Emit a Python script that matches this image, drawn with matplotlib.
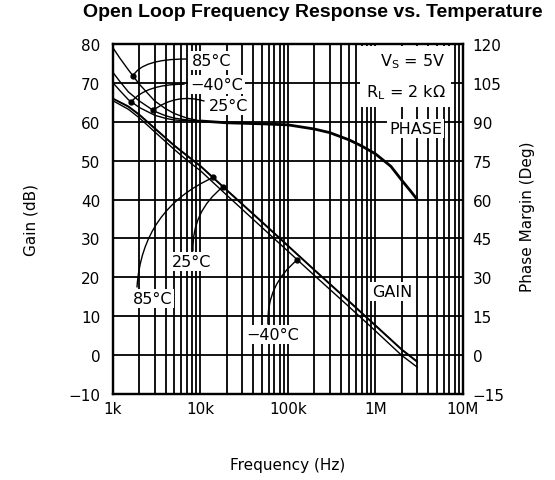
import numpy as np
import matplotlib
matplotlib.use("Agg")
from matplotlib import pyplot as plt
from matplotlib.ticker import LogLocator, NullFormatter

plt.rcParams['font.family'] = 'DejaVu Sans'
plt.rcParams['mathtext.default'] = 'regular'

#%% Data
freq_ticks = [1e3, 1e4, 1e5, 1e6, 1e7]
freq_labels = ["1k", "10k", "100k", "1M", "10M"]
gain_ticks = [-10, 0, 10, 20, 30, 40, 50, 60, 70, 80]
phase_ticks = [-15, 0, 15, 30, 45, 60, 75, 90, 105, 120]

# gain (dB)
gain_freq = [1e3, 1.5e3, 2e3, 3e3, 5e3, 7e3, 10e3, 20e3, 50e3, 100e3, 200e3, 500e3, 1e6, 2e6, 3e6]
gain_85 = [66.0, 64.0, 61.9, 58.4, 54.0, 51.4, 48.7, 42.5, 34.4, 28.2, 22.0, 13.9, 7.7, 1.5, -1.6]
gain_25 = [65.9, 63.8, 61.7, 58.2, 53.8, 51.2, 48.5, 42.3, 34.2, 28.0, 21.8, 13.7, 7.5, 1.3, -1.8]
gain_m40 = [65.4, 63.2, 61.0, 57.4, 52.9, 50.1, 47.4, 41.1, 32.9, 26.7, 20.5, 12.4, 6.2, -0.1, -3.1]

# phase margin (deg), low end per temperature, then one shared curve
phase_freq_lo = [1e3, 1.2e3, 1.5e3, 2e3, 3e3, 4e3, 5e3, 7e3, 10e3]
phase_85 = [118.5, 114.5, 110.0, 104.5, 98.0, 95.0, 93.2, 91.4, 90.3]
phase_25 = [109.0, 105.5, 101.5, 98.0, 94.0, 92.3, 91.4, 90.7, 90.3]
phase_m40 = [105.0, 102.0, 98.5, 95.5, 92.5, 91.3, 90.7, 90.4, 90.3]
phase_freq_hi = [10e3, 20e3, 50e3, 100e3, 200e3, 300e3, 500e3, 700e3, 1e6, 1.5e6, 2e6, 2.5e6, 3e6]
phase_hi = [90.3, 89.6, 89.2, 88.8, 87.2, 85.8, 83.0, 80.6, 77.6, 72.8, 67.4, 63.4, 60.0]

# where the temperature callouts touch the curves (Hz)
gain_dot_freq = {"85": 14e3, "25": 18e3, "-40": 128e3}
phase_dot_freq = {"85": 1.69e3, "-40": 1.62e3, "25": 2.88e3}


def on_curve(f, xs, ys):
    return np.interp(np.log10(f), np.log10(xs), ys)


fig = plt.figure(figsize=(5.55, 4.81), dpi=100)
ax = fig.add_axes([0.2036, 0.1788, 0.6306, 0.7277])
ax2 = ax.twinx()

ax.set_xscale('log')
ax.set_xlim(1e3, 1e7)
ax.set_ylim(-10, 80)
ax2.set_ylim(-15, 120)

ax.set_xticks(freq_ticks)
ax.set_xticklabels(freq_labels)
ax.xaxis.set_minor_locator(LogLocator(base=10, subs=np.arange(2, 10)))
ax.xaxis.set_minor_formatter(NullFormatter())
ax.set_yticks(gain_ticks)
ax2.set_yticks(phase_ticks)

ax.grid(True, which='both', axis='x', color='black', lw=1.3)
ax.grid(True, which='major', axis='y', color='black', lw=1.3)
ax.tick_params(which='both', length=0, labelsize=11)
ax.tick_params(axis='y', pad=9)
ax.tick_params(axis='x', pad=5)
ax2.tick_params(length=0, labelsize=11, pad=7)
for sp in list(ax.spines.values()) + list(ax2.spines.values()):
    sp.set_linewidth(1.6)

# gain curves
ax.plot(gain_freq, gain_85, color='black', lw=1.0)
ax.plot(gain_freq, gain_25, color='black', lw=1.0)
ax.plot(gain_freq, gain_m40, color='black', lw=1.0)

# phase curves
ax2.plot(phase_freq_lo, phase_85, color='black', lw=1.0)
ax2.plot(phase_freq_lo, phase_25, color='black', lw=1.0)
ax2.plot(phase_freq_lo, phase_m40, color='black', lw=1.0)
ax2.plot(phase_freq_hi, phase_hi, color='black', lw=2.0, solid_capstyle='butt')

box = dict(fc='white', ec='none', pad=1.5)
lbl = dict(ha='center', va='center', fontsize=11.5, bbox=box, zorder=5)
arrow = dict(arrowstyle='-', color='black', lw=1.0, shrinkA=0, shrinkB=0)

# gain callouts (bottom)
g85 = (gain_dot_freq["85"], on_curve(gain_dot_freq["85"], gain_freq, gain_85))
g25 = (gain_dot_freq["25"], on_curve(gain_dot_freq["25"], gain_freq, gain_25))
gm40 = (gain_dot_freq["-40"], on_curve(gain_dot_freq["-40"], gain_freq, gain_m40))
for pt in (g85, g25, gm40):
    ax.plot(*pt, 'o', color='black', ms=3.5, zorder=6)
ax.annotate('', xy=g85, xytext=(1.88e3, 17.5),
            arrowprops=dict(arrow, connectionstyle='arc3,rad=-0.3'))
ax.annotate('', xy=g25, xytext=(8.2e3, 26.8),
            arrowprops=dict(arrow, connectionstyle='arc3,rad=-0.25'))
ax.annotate('', xy=gm40, xytext=(59e3, 8.0),
            arrowprops=dict(arrow, connectionstyle='arc3,rad=-0.25'))
ax.text(2.83e3, 14.6, '85°C', **lbl)
ax.text(7.9e3, 24.1, '25°C', **lbl)
ax.text(66.5e3, 5.4, '\u221240°C', **lbl)
ax.text(1.55e6, 16.4, 'GAIN', **lbl)

# phase callouts (top)
p85 = (phase_dot_freq["85"], on_curve(phase_dot_freq["85"], phase_freq_lo, phase_85))
p25 = (phase_dot_freq["25"], on_curve(phase_dot_freq["25"], phase_freq_lo, phase_25))
pm40 = (phase_dot_freq["-40"], on_curve(phase_dot_freq["-40"], phase_freq_lo, phase_m40))
for pt in (p85, p25, pm40):
    ax2.plot(*pt, 'o', color='black', ms=3.5, zorder=6)
ax2.annotate('', xy=p85, xytext=(6.8e3, 114.2),
             arrowprops=dict(arrow, connectionstyle='angle3,angleA=0,angleB=60'))
ax2.annotate('', xy=pm40, xytext=(6.5e3, 104.5),
             arrowprops=dict(arrow, connectionstyle='angle3,angleA=0,angleB=50'))
ax2.annotate('', xy=p25, xytext=(11e3, 98.0),
             arrowprops=dict(arrow, connectionstyle='arc3,rad=0.25'))
ax2.text(13.5e3, 113.7, '85°C', **lbl)
ax2.text(15.2e3, 104.3, '\u221240°C', **lbl)
ax2.text(20.9e3, 96.2, '25°C', **lbl)
ax2.text(2.86e6, 87.4, 'PHASE', **lbl)

ax2.text(2.2e6, 107.5, 'V$_S$ = 5V\nR$_L$ = 2 k\u03a9', ha='center', va='center',
         multialignment='right', linespacing=1.9, fontsize=11.5,
         bbox=dict(fc='white', ec='none', pad=4), zorder=5)

ax.set_xlabel('Frequency (Hz)', fontsize=11)
ax.xaxis.set_label_coords(0.5, -0.18)
ax.set_ylabel('Gain (dB)', fontsize=11)
ax.yaxis.set_label_coords(-0.214, 0.5)
ax2.set_ylabel('Phase Margin (Deg)', fontsize=11)
ax2.yaxis.set_label_coords(1.163, 0.51)

fig.text(0.564, 0.975, 'Open Loop Frequency Response vs. Temperature',
         family='Liberation Sans', fontweight='bold', fontsize=14,
         ha='center', va='center')

fig.savefig('out.png', dpi=100)
